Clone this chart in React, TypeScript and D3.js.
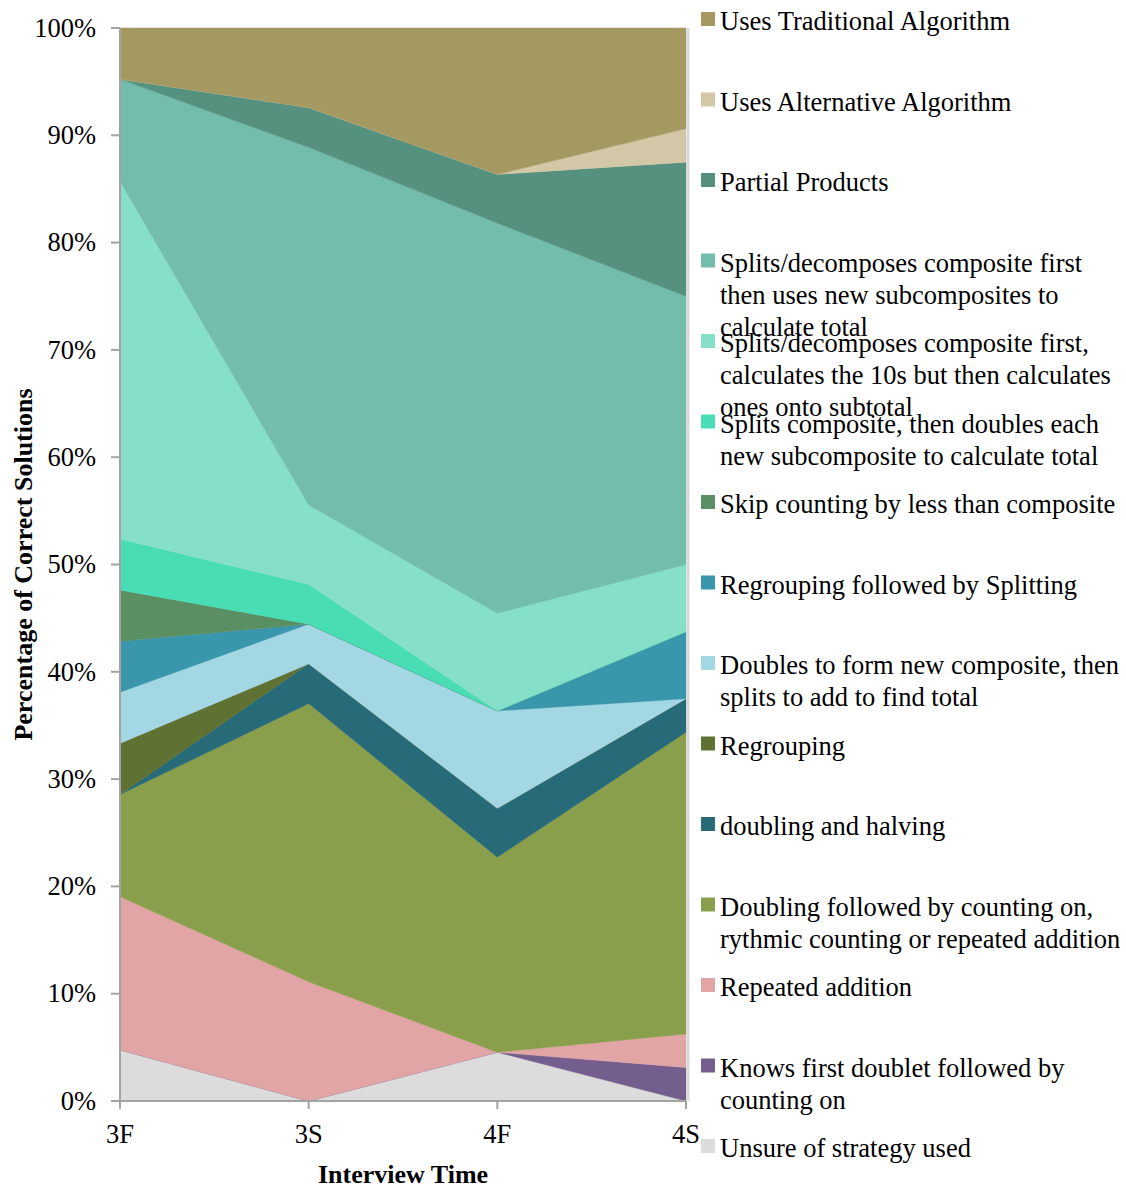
import React from "react";
import * as d3 from "d3";

// interview times
const times = ["3F", "3S", "4F", "4S"];

// strategies, bottom of the stack first
const strategies = [
  "Unsure of strategy used",
  "Knows first doublet followed by\ncounting on",
  "Repeated addition",
  "Doubling followed by counting on,\nrythmic counting or repeated addition",
  "doubling and halving",
  "Regrouping",
  "Doubles to form new composite, then\nsplits to add to find total",
  "Regrouping followed by Splitting",
  "Skip counting by less than composite",
  "Splits composite, then doubles each\nnew subcomposite to calculate total",
  "Splits/decomposes composite first,\ncalculates the 10s but then calculates\nones onto subtotal",
  "Splits/decomposes composite first\nthen uses new subcomposites to\ncalculate total",
  "Partial Products",
  "Uses Alternative Algorithm",
  "Uses Traditional Algorithm",
];

const colors = [
  "#dcdcdc",
  "#745e8d",
  "#e1a5a5",
  "#8a9f4b",
  "#276a78",
  "#5f7133",
  "#a4d7e4",
  "#3a96aa",
  "#5a8f64",
  "#48ddb4",
  "#86dfc9",
  "#73bdac",
  "#56907e",
  "#d2c8a7",
  "#a59962",
];

// number of correct solutions per strategy, one value per interview time
const unsure = [1, 0, 1, 0];
const knowsDoublet = [0, 0, 0, 1];
const repeatedAddition = [3, 3, 0, 1];
const doublingCounting = [2, 7, 4, 9];
const doublingHalving = [0, 1, 1, 1];
const regrouping = [1, 0, 0, 0];
const doublesComposite = [1, 1, 2, 0];
const regroupSplit = [1, 0, 0, 2];
const skipCounting = [1, 0, 0, 0];
const splitsDoubles = [1, 1, 0, 0];
const splitsTens = [7, 2, 2, 2];
const splitsSubcomp = [2, 9, 8, 8];
const partialProducts = [0, 1, 1, 4];
const altAlgorithm = [0, 0, 0, 1];
const tradAlgorithm = [1, 2, 3, 3];

const seriesValues = [
  unsure, knowsDoublet, repeatedAddition, doublingCounting, doublingHalving,
  regrouping, doublesComposite, regroupSplit, skipCounting, splitsDoubles,
  splitsTens, splitsSubcomp, partialProducts, altAlgorithm, tradAlgorithm,
];

const yTicks = [0, 0.1, 0.2, 0.3, 0.4, 0.5, 0.6, 0.7, 0.8, 0.9, 1];

export default function App() {
  const width = 1126;
  const height = 1187;
  const margin = { top: 28, left: 120 };
  const plotW = 686 - margin.left;
  const plotH = 1101 - margin.top;
  const font = "'Liberation Serif', 'Times New Roman', serif";

  const rows = times.map((t, i) => {
    const row: any = { time: t };
    strategies.forEach((s, j) => (row[s] = seriesValues[j][i]));
    return row;
  });

  const stacked = d3.stack<any>().keys(strategies).offset(d3.stackOffsetExpand)(rows);

  const x = d3.scalePoint().domain(times).range([0, plotW]);
  const y = d3.scaleLinear().domain([0, 1]).range([plotH, 0]);

  const area = d3
    .area<any>()
    .x((d) => x(d.data.time) as number)
    .y0((d) => y(d[0]))
    .y1((d) => y(d[1]));

  const axisColor = "#a3a3a3";
  const legendItems = strategies.map((s, i) => ({ label: s, color: colors[i] })).reverse();

  return (
    <svg
      width={width}
      height={height}
      style={{ position: "absolute", left: 0, top: 0, background: "#fff" }}
      fontFamily={font}
    >
      <g transform={`translate(${margin.left},${margin.top})`}>
        {stacked.map((layer, i) => (
          <path key={layer.key} d={area(layer) || ""} fill={colors[i]} stroke={colors[i]} strokeWidth={0.5} />
        ))}
        {/* right shadow */}
        <line x1={plotW + 2} x2={plotW + 2} y1={0} y2={plotH} stroke="#d9d9d9" strokeWidth={3} />

        {/* y axis */}
        <line x1={0} x2={0} y1={0} y2={plotH} stroke={axisColor} strokeWidth={2} />
        {yTicks.map((t) => (
          <g key={t} transform={`translate(0,${y(t)})`}>
            <line x1={-9} x2={0} stroke={axisColor} strokeWidth={2} />
            <text x={-24} dy="0.33em" textAnchor="end" fontSize={26.5} fill="#000">
              {d3.format(".0%")(t)}
            </text>
          </g>
        ))}

        {/* x axis */}
        <line x1={0} x2={plotW} y1={plotH} y2={plotH} stroke={axisColor} strokeWidth={2} />
        {times.map((t) => (
          <g key={t} transform={`translate(${x(t)},${plotH})`}>
            <line y1={0} y2={8} stroke={axisColor} strokeWidth={2} />
            <text y={42} textAnchor="middle" fontSize={26.5} fill="#000">
              {t}
            </text>
          </g>
        ))}

        <text
          x={plotW / 2}
          y={plotH + 82}
          textAnchor="middle"
          fontSize={26}
          fontWeight="bold"
        >
          Interview Time
        </text>
        <text
          transform={`translate(${-88},${plotH / 2}) rotate(-90)`}
          textAnchor="middle"
          fontSize={26}
          fontWeight="bold"
        >
          Percentage of Correct Solutions
        </text>
      </g>

      {/* legend */}
      <g transform="translate(701,12)">
        {legendItems.map((item, i) => (
          <g key={item.label} transform={`translate(0,${i * 80.5})`}>
            <rect width={14} height={14} fill={item.color} />
            <text x={19} y={18} fontSize={26.5} fill="#000">
              {item.label.split("\n").map((line, k) => (
                <tspan key={k} x={19} dy={k === 0 ? 0 : 32}>
                  {line}
                </tspan>
              ))}
            </text>
          </g>
        ))}
      </g>
    </svg>
  );
}
